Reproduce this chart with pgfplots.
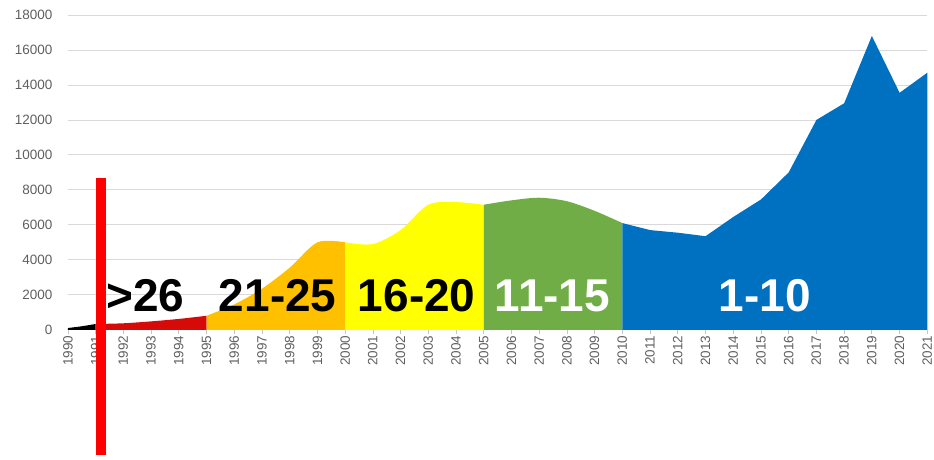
\documentclass[border=0pt]{standalone}
\usepackage{fontspec}
\setmainfont{Liberation Sans}
\usepackage{pgfplots}
\pgfplotsset{compat=1.18}
\definecolor{tickgray}{RGB}{95,95,95}
\definecolor{cblack}{RGB}{0,0,0}
\definecolor{cred}{RGB}{215,10,10}
\definecolor{corange}{RGB}{255,192,0}
\definecolor{cyellow}{RGB}{255,255,0}
\definecolor{cgreen}{RGB}{112,173,71}
\definecolor{cblue}{RGB}{0,112,192}
\begin{document}
\begin{tikzpicture}
\begin{axis}[
  scale only axis, width=860pt, height=315pt,
  xmin=1990, xmax=2021, ymin=0, ymax=18000,
  xtick={1990,...,2021},
  ytick={0,2000,...,18000},
  xtick pos=lower, ytick pos=left,
  /pgf/number format/1000 sep={},
  /pgf/number format/assume math mode=true,
  scaled y ticks=false, scaled x ticks=false,
  xticklabel style={rotate=90, anchor=east, font=\fontsize{13.5}{13}\selectfont, text=tickgray, inner sep=2pt},
  yticklabel style={font=\fontsize{13.5}{13}\selectfont, text=tickgray, xshift=-8pt},
  axis line style={draw=none},
  ymajorgrids, grid style={color=gray!30, line width=0.8pt},
  xtick style={draw=gray!45, line width=0.6pt}, ytick style={draw=none},
  major tick length=4pt, tick align=outside,
  clip=false,
]
\path (axis cs:1987.55,18857) rectangle (axis cs:2021.22,-7143);
\addplot[fill=cblack, draw=none, smooth] coordinates {(1990,100) (1990.5,200) (1991,330)} \closedcycle;
\addplot[fill=cred, draw=none, smooth] coordinates {(1991,330) (1992,370) (1993,480) (1994,620) (1995,800)} \closedcycle;
\addplot[fill=corange, draw=none, smooth] coordinates {(1995,800) (1996,1450) (1997,2350) (1998,3550) (1999,5000) (2000,5000)} \closedcycle;
\addplot[fill=cyellow, draw=none, smooth] coordinates {(2000,5000) (2001,4900) (2002,5700) (2003,7150) (2004,7300) (2005,7150)} \closedcycle;
\addplot[fill=cgreen, draw=none, smooth] coordinates {(2005,7150) (2006,7400) (2007,7550) (2008,7350) (2009,6800) (2010,6100)} \closedcycle;
\addplot[fill=cblue, draw=none] coordinates {(2010,6100) (2011,5700) (2012,5550) (2013,5350) (2014,6450) (2015,7450) (2016,9000) (2017,12000) (2018,12950) (2019,16800) (2020,13550) (2021,14700)} \closedcycle;
\node[anchor=base, font=\fontsize{46}{46}\selectfont\bfseries, text=black] at (axis cs:1992.8,1030) {>26};
\node[anchor=base, font=\fontsize{46}{46}\selectfont\bfseries, text=black] at (axis cs:1997.57,1030) {21-25};
\node[anchor=base, font=\fontsize{46}{46}\selectfont\bfseries, text=black] at (axis cs:2002.58,1030) {16-20};
\node[anchor=base, font=\fontsize{46}{46}\selectfont\bfseries, text=white] at (axis cs:2007.48,1030) {11-15};
\node[anchor=base, font=\fontsize{46}{46}\selectfont\bfseries, text=white] at (axis cs:2015.13,1030) {1-10};
\draw[red, line width=10pt] (axis cs:1991.19,8700) -- (axis cs:1991.19,-7143);
\end{axis}
\end{tikzpicture}
\end{document}
